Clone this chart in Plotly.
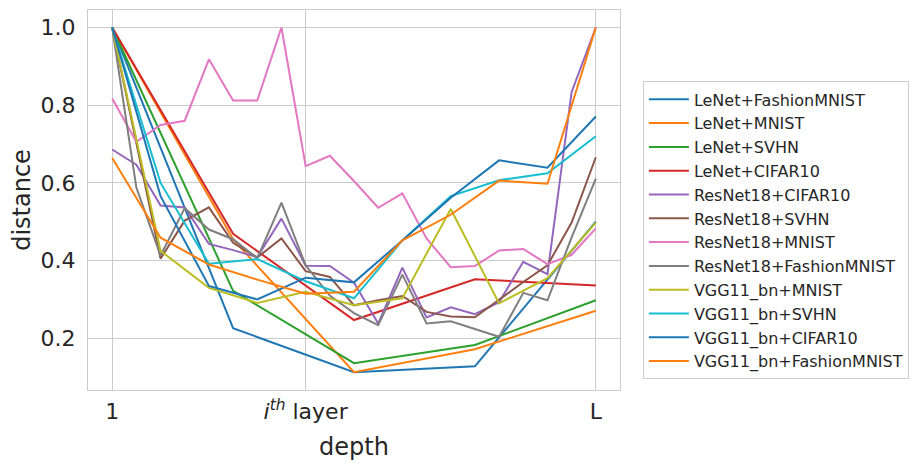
# layer-wise distance for several networks / datasets
import plotly.graph_objects as go

# depth positions (normalised so every net spans 1..L)
lenet_layers = [0, 5, 10, 15, 20]
resnet_layers = list(range(21))
vgg_layers = [0, 2, 4, 6, 8, 10, 12, 14, 16, 18, 20]

# LeNet
lenet_fashionmnist = [1.0, 0.226, 0.113, 0.128, 0.50]
lenet_mnist = [1.0, 0.455, 0.113, 0.172, 0.271]
lenet_svhn = [1.0, 0.322, 0.136, 0.183, 0.298]
lenet_cifar10 = [1.0, 0.469, 0.247, 0.352, 0.336]

# ResNet18
resnet_cifar10 = [0.686, 0.647, 0.542, 0.537, 0.443, 0.427, 0.409, 0.508, 0.387, 0.386, 0.343,
                  0.238, 0.382, 0.254, 0.280, 0.262, 0.293, 0.397, 0.365, 0.834, 1.0]
resnet_svhn = [1.0, 0.703, 0.405, 0.503, 0.537, 0.446, 0.408, 0.457, 0.373, 0.358, 0.285,
               0.298, 0.309, 0.268, 0.256, 0.254, 0.300, 0.345, 0.388, 0.498, 0.666]
resnet_mnist = [0.817, 0.706, 0.749, 0.760, 0.918, 0.812, 0.812, 1.0, 0.643, 0.670, 0.605,
                0.536, 0.573, 0.457, 0.383, 0.386, 0.426, 0.430, 0.391, 0.415, 0.483]
resnet_fashionmnist = [1.0, 0.588, 0.413, 0.535, 0.480, 0.455, 0.406, 0.549, 0.388, 0.310, 0.265,
                       0.234, 0.364, 0.238, 0.244, 0.224, 0.204, 0.317, 0.298, 0.460, 0.611]

# VGG11_bn
vgg_mnist = [1.0, 0.425, 0.330, 0.291, 0.320, 0.285, 0.303, 0.533, 0.290, 0.355, 0.498]
vgg_svhn = [1.0, 0.600, 0.392, 0.404, 0.347, 0.303, 0.452, 0.566, 0.607, 0.625, 0.720]
vgg_cifar10 = [1.0, 0.566, 0.335, 0.300, 0.356, 0.344, 0.452, 0.562, 0.658, 0.639, 0.771]
vgg_fashionmnist = [0.664, 0.459, 0.390, 0.351, 0.315, 0.320, 0.452, 0.518, 0.606, 0.598, 1.0]

x_ticks = [0, 8, 20]
x_ticklabels = ['1', '<i>i<sup>th</sup></i> layer', 'L']

series = [
    ('LeNet+FashionMNIST', lenet_layers, lenet_fashionmnist),
    ('LeNet+MNIST', lenet_layers, lenet_mnist),
    ('LeNet+SVHN', lenet_layers, lenet_svhn),
    ('LeNet+CIFAR10', lenet_layers, lenet_cifar10),
    ('ResNet18+CIFAR10', resnet_layers, resnet_cifar10),
    ('ResNet18+SVHN', resnet_layers, resnet_svhn),
    ('ResNet18+MNIST', resnet_layers, resnet_mnist),
    ('ResNet18+FashionMNIST', resnet_layers, resnet_fashionmnist),
    ('VGG11_bn+MNIST', vgg_layers, vgg_mnist),
    ('VGG11_bn+SVHN', vgg_layers, vgg_svhn),
    ('VGG11_bn+CIFAR10', vgg_layers, vgg_cifar10),
    ('VGG11_bn+FashionMNIST', vgg_layers, vgg_fashionmnist),
]

# matplotlib tab10 cycle
colors = ['#1f77b4', '#ff7f0e', '#2ca02c', '#d62728', '#9467bd',
          '#8c564b', '#e377c2', '#7f7f7f', '#bcbd22', '#17becf']

fig = go.Figure()
for i, (name, x, y) in enumerate(series):
    fig.add_trace(go.Scatter(x=x, y=y, mode='lines', name=name,
                             line=dict(color=colors[i % len(colors)], width=2)))

text_color = '#262626'
grid_color = '#cccccc'

# the page body has an 8px margin, so the figure is 8px smaller and margins shifted
fig.update_layout(
    width=916, height=462,
    margin=dict(l=80, r=304, t=2, b=80),
    paper_bgcolor='white', plot_bgcolor='white',
    font=dict(family='DejaVu Sans', color=text_color, size=22),
    showlegend=True,
    legend=dict(x=1.043, y=0.42, xanchor='left', yanchor='middle',
                bgcolor='white', bordercolor=grid_color, borderwidth=1,
                itemwidth=40,
                font=dict(size=16, color=text_color)),
)
fig.update_xaxes(range=[-1, 21], tickvals=x_ticks, ticktext=x_ticklabels,
                 showgrid=True, gridcolor=grid_color, gridwidth=1,
                 showline=True, mirror=True, linecolor=grid_color, linewidth=1,
                 zeroline=False, ticks='outside', ticklen=2, tickcolor='rgba(0,0,0,0)',
                 tickfont=dict(size=22), automargin=False,
                 title=dict(text='depth', font=dict(size=24), standoff=14))
fig.update_yaxes(range=[0.067, 1.045], tickvals=[0.2, 0.4, 0.6, 0.8, 1.0], tickformat='.1f',
                 showgrid=True, gridcolor=grid_color, gridwidth=1,
                 showline=True, mirror=True, linecolor=grid_color, linewidth=1,
                 zeroline=False, ticks='outside', ticklen=7, tickcolor='rgba(0,0,0,0)',
                 tickfont=dict(size=22), automargin=False,
                 title=dict(text='distance', font=dict(size=24), standoff=6))

fig.write_html('out.html')
